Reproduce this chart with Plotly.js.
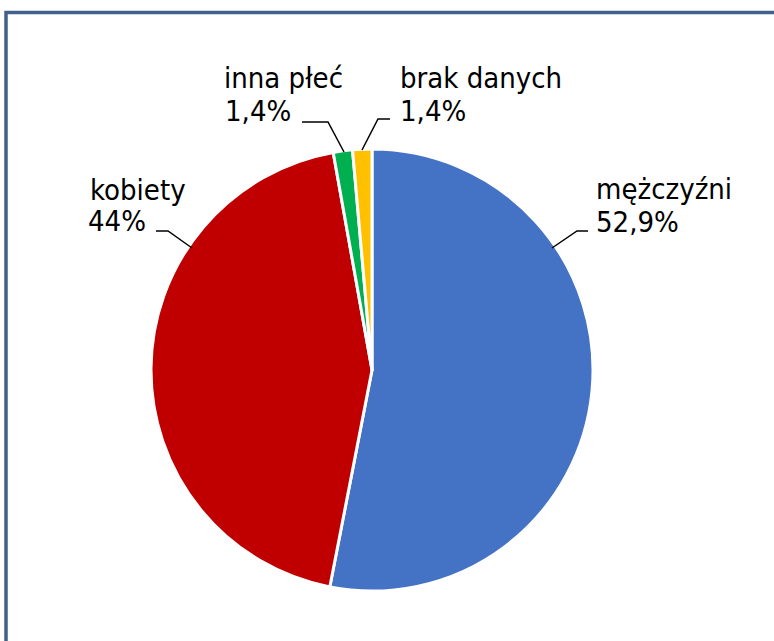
<!DOCTYPE html>
<html>
<head>
<meta charset="utf-8">
<script src="https://cdn.plot.ly/plotly-3.0.1.min.js"></script>
<style>html,body{margin:0;padding:0;background:#fff;}#chart{width:774px;height:641px;}</style>
</head>
<body>
<div id="chart"></div>
<script>
// Data
const categories = ["mężczyźni", "kobiety", "inna płeć", "brak danych"];
const values = [52.9, 44, 1.4, 1.4];
const colors = ["#4472C4", "#C00000", "#00B050", "#FFC000"];

// Layout helpers (pixel -> paper)
const W = 774, H = 641;
const px = x => x / W;
const py = y => 1 - y / H;
const fmt = v => String(v).replace('.', ',') + '%';

// Pie geometry (layout)
const cx = 372, cy = 370, r = 221;

// Label placement (layout)
const labelPos = [
  {nx: 594, ny: 189, vx: 594, vy: 222, leader: [[588, 231], [577, 231], [552, 248]]},
  {nx: 88, ny: 190, vx: 86, vy: 221, leader: [[156, 231], [168, 231], [192, 248]]},
  {nx: 222, ny: 78, vx: 223, vy: 111, leader: [[302, 122], [328, 122], [344, 152]]},
  {nx: 398, ny: 78, vx: 398, vy: 111, leader: [[390, 119], [378, 119], [362, 150]]}
];

const font = {family: "DejaVu Sans Condensed, DejaVu Sans, sans-serif", size: 29, color: "#000"};

const annotations = [];
const shapes = [];
categories.forEach((c, i) => {
  const p = labelPos[i];
  annotations.push({xref: 'paper', yref: 'paper', x: px(p.nx), y: py(p.ny), xanchor: 'left', yanchor: 'middle', text: c, showarrow: false, font: font});
  annotations.push({xref: 'paper', yref: 'paper', x: px(p.vx), y: py(p.vy), xanchor: 'left', yanchor: 'middle', text: fmt(values[i]), showarrow: false, font: font});
  const path = p.leader.map((pt, k) => (k ? 'L' : 'M') + px(pt[0]) + ',' + py(pt[1])).join(' ');
  shapes.push({type: 'path', xref: 'paper', yref: 'paper', path: path, line: {color: '#000', width: 1.5}});
});

// outer frame (cut off at right and bottom)
shapes.push({type: 'rect', xref: 'paper', yref: 'paper', x0: px(6), x1: 1.2, y0: -0.2, y1: py(12.5), line: {color: '#41618C', width: 3.5}, fillcolor: 'rgba(0,0,0,0)'});

const trace = {
  type: 'pie',
  labels: categories,
  values: values,
  marker: {colors: colors, line: {color: '#fff', width: 3}},
  sort: false,
  direction: 'clockwise',
  rotation: 0,
  textinfo: 'none',
  hoverinfo: 'label+percent',
  domain: {x: [px(cx - r), px(cx + r)], y: [py(cy + r), py(cy - r)]}
};

const layout = {
  width: W, height: H,
  margin: {l: 0, r: 0, t: 0, b: 0},
  paper_bgcolor: '#fff',
  showlegend: false,
  annotations: annotations,
  shapes: shapes
};

Plotly.newPlot('chart', [trace], layout, {displayModeBar: false, staticPlot: true});
</script>
</body>
</html>
